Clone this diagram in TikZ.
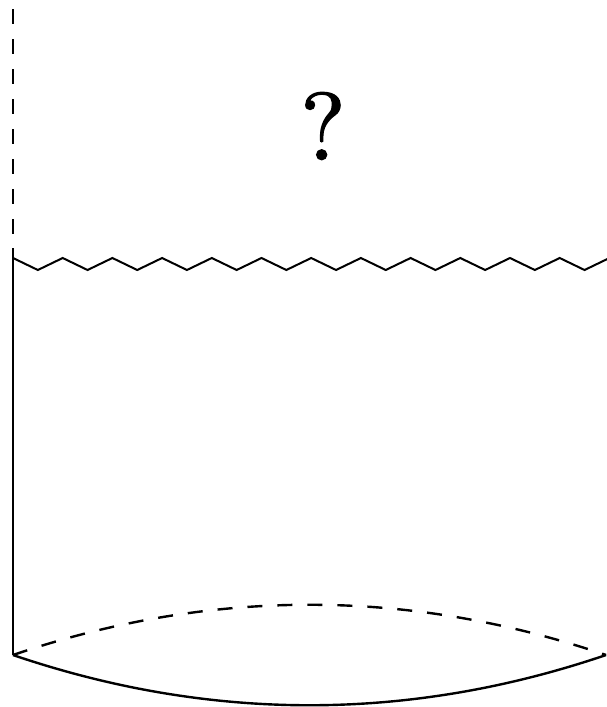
\documentclass[tikz,border=0pt]{standalone}
\font\qfont="[lmroman10-regular.otf]:embolden=1.2" at 96pt
\tikzset{
  ln/.style={line width=2.4pt,black},
  dsh/.style={ln,dash pattern=on 15pt off 15pt},
  zig/.style={line width=2pt,black,line join=miter},
}
\begin{document}
\begin{tikzpicture}[x=1pt,y=-1pt]
\useasboundingbox (0,0) rectangle (606,707);
\coordinate (top) at (13,9);
\coordinate (mid) at (13,248);
\coordinate (bl) at (13,655);
\coordinate (br) at (606,655);
\coordinate (zs) at (13,258);
\draw[dsh] (top) -- (mid);
\draw[ln] (mid) -- (bl);
\draw[ln] (bl) .. controls (210,722) and (409,722) .. (br);
\draw[dsh] (bl) .. controls (210,588) and (409,588) .. (br);
\draw[zig] (zs)
  \foreach \i in {0,...,11} { -- ++(24.85,12) -- ++(24.85,-12) }
  -- ++(24.85,12) -- ++(20,-9.66);
\node[inner sep=0pt,anchor=center] (q) at (323,126) {\qfont ?};
\end{tikzpicture}
\end{document}
